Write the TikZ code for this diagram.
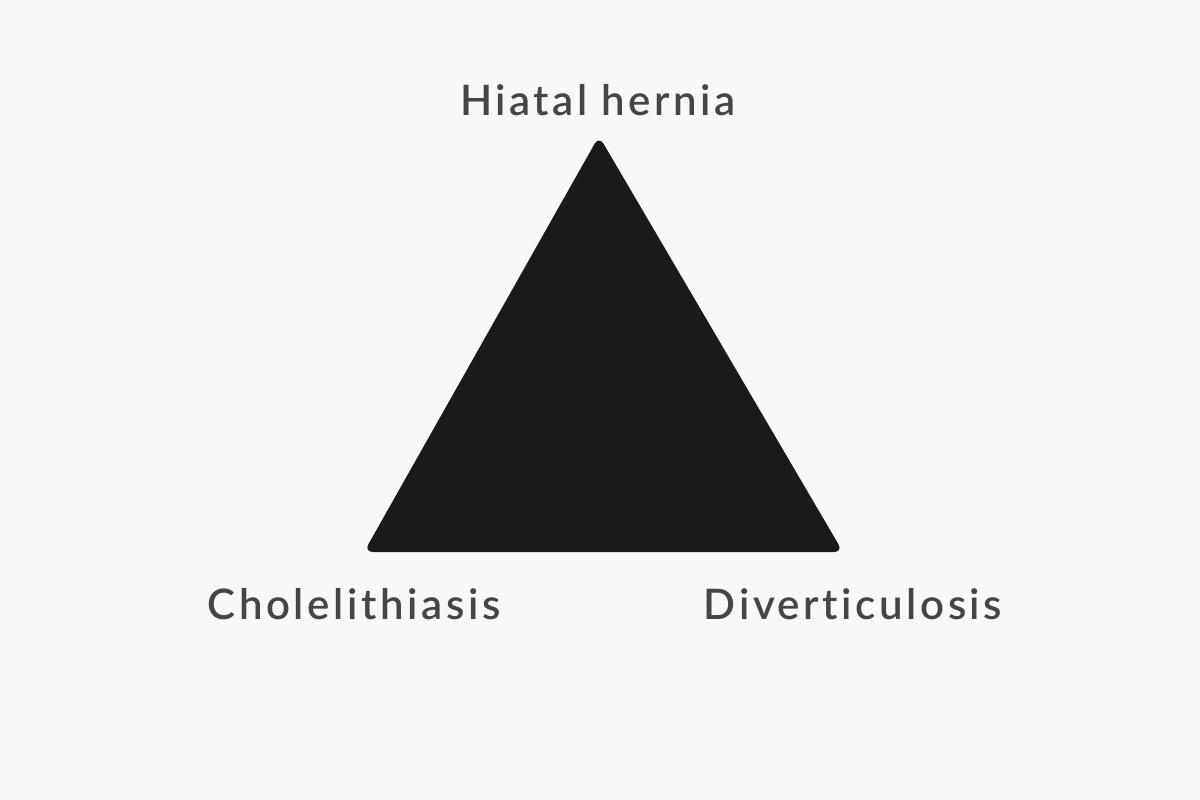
\documentclass[tikz,border=0pt]{standalone}
\usepackage{fontspec}
\setmainfont{Lato}[UprightFont=* Semibold,LetterSpace=8.5,Ligatures=NoCommon]
\definecolor{bg}{HTML}{F8F8F8}
\definecolor{txt}{HTML}{454545}
\definecolor{tri}{HTML}{1A1A1A}
\begin{document}
\begin{tikzpicture}[x=1pt,y=-1pt,
  lab/.style={text=txt,font=\fontsize{42}{50}\selectfont,inner sep=0pt,anchor=base}]
\fill[bg] (0,0) rectangle (1200,800);
\useasboundingbox (0,0) rectangle (1200,800);
\coordinate (t) at (599,136);
\coordinate (l) at (364,552);
\coordinate (r) at (843,552);
\fill[tri,rounded corners=9pt] (t) -- (r) -- (l) -- cycle;
\node[lab] (h) at (598,115) {Hiatal hernia};
\node[lab] (c) at (354,619) {Cholelithiasis};
\node[lab] (d) at (853,619) {Diverticulosis};
\end{tikzpicture}
\end{document}
